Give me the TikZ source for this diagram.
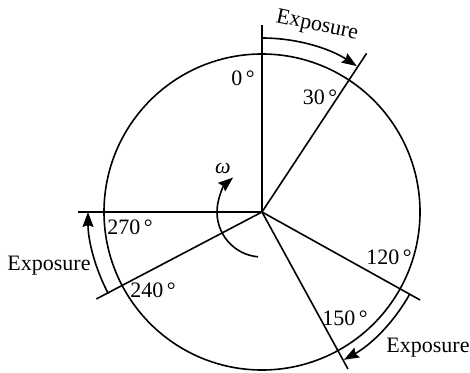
\documentclass[tikz,border=0pt]{standalone}
\usepackage{fontspec}
\setmainfont{Liberation Serif}
\usetikzlibrary{arrows.meta,calc}
\begin{document}
\begin{tikzpicture}[x=1pt,y=1pt,
  ln/.style={line width=1.6pt},
  lbl/.style={font=\fontsize{22}{26}\selectfont, inner sep=0pt},
  arr/.style={line width=1.6pt,-{Stealth[length=15pt,width=11pt,inset=2pt]}}]
\useasboundingbox (0,0) rectangle (470,372);
\coordinate (O) at (262,160);
\draw[ln] (O) circle (158);
% radial lines
\draw[ln] (O) -- ($(O)+(90:187)$) coordinate (a0);
\draw[ln] (O) -- ($(O)+(56.6:190)$) coordinate (a30);
\draw[ln] (O) -- ($(O)+(180:184)$) coordinate (a270);
\draw[ln] (O) -- ($(O)+(207.7:187)$) coordinate (a240);
\draw[ln] (O) -- ($(O)+(-29.1:181)$) coordinate (a120);
\draw[ln] (O) -- ($(O)+(-61.3:179)$) coordinate (a150);
% exposure arcs
\coordinate (s1) at ($(O)+(90:174)$);
\draw[arr] (s1) arc[start angle=90,end angle=57,radius=174];
\coordinate (s2) at ($(O)+(208:174)$);
\draw[arr] (s2) arc[start angle=208,end angle=180,radius=174];
\coordinate (s3) at ($(O)+(-29:169)$);
\draw[arr] (s3) arc[start angle=-29,end angle=-61,radius=169];
% omega arc
\coordinate (s4) at ($(O)+(265:45)$);
\draw[arr] (s4) arc[start angle=265,end angle=130,radius=45];
% labels
\node[lbl] (l0) at (243,294) {0\,°};
\node[lbl] (l30) at (320,275) {30\,°};
\node[lbl] (l270) at (130,145) {270\,°};
\node[lbl] (l240) at (153,82) {240\,°};
\node[lbl] (l120) at (389,115) {120\,°};
\node[lbl] (l150) at (345,54) {150\,°};
\node[lbl] (e1) at (428,24.5) {Exposure};
\node[lbl] (e2) at (49,106) {Exposure};
\node[lbl,rotate=-12] (e3) at (317,346) {Exposure};
\node[lbl] (w) at (223,204) {\itshape ω};
\end{tikzpicture}
\end{document}
